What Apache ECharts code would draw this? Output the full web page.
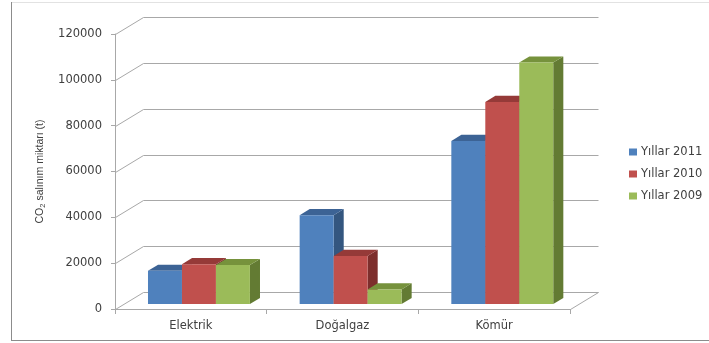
<!DOCTYPE html>
<html>
<head>
<meta charset="utf-8">
<script src="https://cdn.jsdelivr.net/npm/echarts@6/dist/echarts.min.js"></script>
<style>
  html, body { margin: 0; padding: 0; background: #ffffff; }
  #chart { width: 709px; height: 343px; }
</style>
</head>
<body>
<div id="chart"></div>
<script>
// CO2 emissions by source (t), three years
const categories = ['Elektrik', 'Doğalgaz', 'Kömür'];
const seriesNames = ['Yıllar 2011', 'Yıllar 2010', 'Yıllar 2009'];
const values2011 = [14500, 38800, 71200];
const values2010 = [17400, 21000, 88200];
const values2009 = [17000, 6400, 105400];
const yTicks = [0, 20000, 40000, 60000, 80000, 100000, 120000];

const seriesValues = [values2011, values2010, values2009];

// shaded faces of the pseudo-3D columns
const faceColors = [
  { front: '#4F81BD', top: '#3C6395', side: '#34567F' },
  { front: '#C0504D', top: '#953A38', side: '#7D2E2C' },
  { front: '#9BBB59', top: '#76923C', side: '#637B33' }
];

// oblique projection of the floor depth
const DEPTH_X = 28;
const DEPTH_Y = 17;
const BAR_FRONT = 0.29;   // where the columns start inside the floor depth
const BAR_BACK = 0.65;    // where the columns end inside the floor depth
const BAR_WIDTH = 0.224;  // column width as a share of the category band

const textColor = '#404040';
const fontFamily = "'DejaVu Sans', Verdana, sans-serif";
const nameFont = "'Liberation Sans Narrow', 'Liberation Sans', Arial, sans-serif";
const gridColor = '#a8a8a8';

function crisp(v) { return Math.round(v) + 0.5; }

// back wall, side wall and floor lines at every value tick
function wallRenderer(params, api) {
  const cs = params.coordSys;
  const v = api.value(1);
  const y = crisp(api.coord([0, v])[1]);
  const left = crisp(cs.x);
  const right = crisp(cs.x + cs.width);
  const children = [{
    type: 'polyline',
    shape: { points: [[left, y], [left + DEPTH_X, y - DEPTH_Y], [right + DEPTH_X, y - DEPTH_Y]] },
    style: { stroke: gridColor, lineWidth: 1, fill: null }
  }];
  if (v === 0) {
    children.push({
      type: 'line',
      shape: { x1: right, y1: y, x2: right + DEPTH_X, y2: y - DEPTH_Y },
      style: { stroke: gridColor, lineWidth: 1 }
    });
  }
  return { type: 'group', children: children };
}

function barRenderer(s) {
  return function (params, api) {
    const idx = api.value(0);
    const v = api.value(1);
    const base = api.coord([idx, 0]);
    const top = api.coord([idx, v]);
    const band = api.size([1, 0])[0];
    const bw = band * BAR_WIDTH;
    const fx = DEPTH_X * BAR_FRONT, fy = DEPTH_Y * BAR_FRONT;
    const dx = DEPTH_X * (BAR_BACK - BAR_FRONT), dy = DEPTH_Y * (BAR_BACK - BAR_FRONT);
    const x0 = base[0] - 1.5 * bw + s * bw + fx;
    const x1 = x0 + bw;
    const yb = base[1] - fy;
    const yt = top[1] - fy;
    const c = faceColors[s];
    return {
      type: 'group',
      children: [
        {
          type: 'polygon',
          shape: { points: [[x1, yb], [x1, yt], [x1 + dx, yt - dy], [x1 + dx, yb - dy]] },
          style: { fill: c.side }
        },
        {
          type: 'polygon',
          shape: { points: [[x0, yt], [x1, yt], [x1 + dx, yt - dy], [x0 + dx, yt - dy]] },
          style: { fill: c.top }
        },
        {
          type: 'rect',
          shape: { x: x0, y: yt, width: bw, height: yb - yt },
          style: { fill: c.front }
        }
      ]
    };
  };
}

const chart = echarts.init(document.getElementById('chart'), null, { renderer: 'canvas' });

const series = [{
  type: 'custom',
  name: 'walls',
  silent: true,
  z: 1,
  coordinateSystem: 'cartesian2d',
  data: yTicks.map(function (v) { return [0, v]; }),
  encode: { x: 0, y: 1 },
  renderItem: wallRenderer
}];

seriesNames.forEach(function (name, s) {
  series.push({
    type: 'custom',
    name: name,
    z: 2,
    coordinateSystem: 'cartesian2d',
    itemStyle: { color: faceColors[s].front },
    data: seriesValues[s].map(function (v, i) { return [i, v]; }),
    encode: { x: 0, y: 1 },
    renderItem: barRenderer(s)
  });
});

chart.setOption({
  animation: false,
  backgroundColor: '#ffffff',
  grid: { left: 115, right: 139, top: 34, bottom: 34 },
  legend: {
    data: seriesNames,
    orient: 'vertical',
    left: 624,
    top: 141,
    icon: 'rect',
    itemWidth: 8,
    itemHeight: 7,
    itemGap: 10,
    textStyle: { color: textColor, fontSize: 11.5, fontFamily: fontFamily, padding: [0, 0, 0, -1] }
  },
  xAxis: {
    type: 'category',
    data: categories,
    axisLine: { lineStyle: { color: gridColor } },
    axisTick: { show: true, length: 5, lineStyle: { color: gridColor } },
    axisLabel: { color: textColor, fontSize: 11.5, fontFamily: fontFamily, margin: 11 },
    splitLine: { show: false }
  },
  yAxis: {
    type: 'value',
    min: 0,
    max: 120000,
    interval: 20000,
    axisLine: { show: true, lineStyle: { color: gridColor } },
    axisTick: { show: true, length: 4, lineStyle: { color: gridColor } },
    axisLabel: {
      color: textColor, fontSize: 11.5, fontFamily: fontFamily, margin: 13,
      formatter: function (v) { return String(v); }
    },
    splitLine: { show: false },
    name: '{n|CO}{s|2}{n| salınım miktarı (t)}',
    nameLocation: 'middle',
    nameRotate: 90,
    nameGap: 63,
    nameTextStyle: {
      rich: {
        n: { fontSize: 10.5, fontFamily: nameFont, color: textColor, lineHeight: 14, verticalAlign: 'bottom' },
        s: { fontSize: 7.5, fontFamily: nameFont, color: textColor, lineHeight: 14, verticalAlign: 'bottom', padding: [0, 0, -2, 0] }
      }
    }
  },
  graphic: [
    { type: 'line', silent: true, shape: { x1: 11, y1: 2.5, x2: 709, y2: 2.5 }, style: { stroke: '#e2e2e2', lineWidth: 1 } },
    { type: 'line', silent: true, shape: { x1: 11.5, y1: 2, x2: 11.5, y2: 340 }, style: { stroke: '#8c8c8c', lineWidth: 1 } },
    { type: 'line', silent: true, shape: { x1: 11, y1: 340.5, x2: 709, y2: 340.5 }, style: { stroke: '#8c8c8c', lineWidth: 1 } }
  ],
  series: series
});
</script>
</body>
</html>
